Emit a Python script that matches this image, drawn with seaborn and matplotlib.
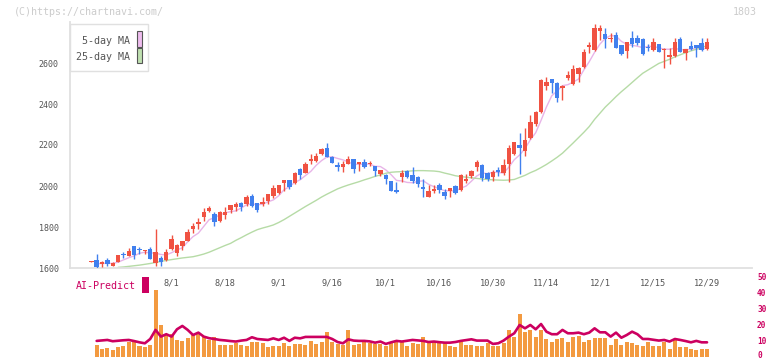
import numpy as np
import pandas as pd
import matplotlib
matplotlib.use("Agg")
import matplotlib.pyplot as plt
import matplotlib.transforms as mtransforms
from matplotlib.patches import Rectangle
import seaborn as sns

# ---------------- data ----------------
opens = [1631,1639,1621,1639,1611,1629,1668,1660,1707,1690, 1681,1693,1623,1650,1637,1691,1672,1705,1732,1790,
         1815,1849,1878,1865,1831,1857,1883,1899,1916,1914, 1951,1916,1912,1929,1953,1967,2013,2029,2013,2085,
         2065,2123,2122,2156,2184,2140,2104,2094,2107,2131, 2107,2117,2106,2097,2059,2054,2024,1980,2045,2073,
         2054,2045,1997,1948,1978,2005,1971,1977,2000,1980, 2026,2049,2094,2102,2065,2045,2078,2065,2106,2155,
         2200,2172,2233,2302,2360,2489,2522,2502,2480,2528, 2498,2548,2579,2677,2663,2758,2741,2717,2736,2688,
         2660,2721,2721,2717,2678,2663,2693,2662,2631,2636, 2717,2647,2683,2688,2697,2668]
highs = [1633,1668,1632,1649,1629,1662,1678,1699,1707,1701, 1690,1702,1790,1658,1693,1761,1717,1733,1790,1818,
         1845,1894,1902,1872,1878,1899,1907,1923,1921,1955, 1961,1918,1946,1962,2005,2007,2031,2031,2067,2088,
         2116,2156,2160,2185,2208,2145,2116,2123,2146,2133, 2118,2132,2123,2099,2080,2057,2026,2021,2078,2076,
         2094,2047,2033,2005,2003,2016,1984,1992,2003,2059, 2059,2078,2127,2107,2068,2078,2091,2133,2200,2217,
         2260,2281,2346,2367,2522,2530,2524,2505,2493,2561, 2590,2580,2667,2704,2789,2786,2770,2745,2751,2690,
         2703,2756,2736,2720,2691,2721,2695,2675,2672,2721, 2727,2670,2705,2690,2721,2721]
lows = [1631,1598,1603,1611,1611,1629,1647,1657,1645,1668, 1667,1645,1611,1611,1634,1688,1660,1690,1730,1772,
        1789,1831,1873,1806,1826,1839,1868,1878,1878,1902, 1896,1875,1902,1912,1940,1960,1976,1984,2010,2033,
        2062,2107,2117,2153,2143,2112,2075,2070,2105,2065, 2075,2090,2098,2050,2050,2010,1975,1964,2021,2037,
        2016,1997,1948,1946,1964,1968,1938,1948,1960,1978, 2013,2039,2075,2026,2026,2026,2049,2054,2021,2151,
        2059,2146,2228,2295,2355,2468,2455,2411,2421,2517, 2495,2509,2575,2647,2660,2712,2675,2701,2672,2640,
        2623,2678,2690,2640,2658,2660,2653,2574,2594,2630, 2653,2615,2662,2630,2660,2663]
closes = [1633,1606,1630,1620,1624,1662,1662,1683,1665,1687, 1688,1645,1678,1631,1678,1741,1712,1730,1777,1806,
          1826,1875,1894,1826,1873,1875,1907,1912,1899,1947, 1902,1883,1923,1960,1992,2005,2029,1997,2065,2055,
          2109,2131,2144,2180,2143,2114,2091,2109,2131,2083, 2116,2094,2112,2075,2078,2034,1977,1972,2062,2042,
          2026,2010,1987,1976,1984,1982,1953,1990,1967,2054, 2034,2073,2117,2040,2036,2070,2068,2102,2187,2215,
          2184,2226,2314,2360,2517,2509,2501,2431,2489,2541, 2571,2577,2655,2688,2770,2772,2715,2724,2675,2642,
          2701,2691,2699,2642,2672,2701,2655,2668,2639,2701, 2655,2668,2667,2672,2663,2701]

ma25 = [None, None, None, None, None,
        1603,1605,1608,1611,1614,1618,1622,1627,1632,1637,
        1641,1645,1649,1652,1655,1661,1668,1677,1688,1699,
        1710,1720,1735,1748,1762,1775,1787,1795,1802,1810,
        1822,1836,1852,1868,1884,1900,1915,1930,1946,1960,
        1973,1986,1996,2005,2013,2021,2030,2038,2047,2054,
        2062,2067,2069,2070,2072,2074,2075,2075,2074,2073,
        2070,2063,2057,2050,2046,2043,2040,2037,2034,2032,
        2030,2029,2028,2029,2032,2042,2052,2065,2076,2090,
        2105,2122,2140,2160,2185,2210,2236,2262,2290,2325,
        2355,2385,2410,2436,2460,2482,2505,2528,2550,2566,
        2582,2598,2608,2618,2630,2640,2650,2659,2667,2676,
        2684]

# bottom panel: one value per session from the 2nd session on
volume = [7.9,5.2,6.0,4.7,6.4,6.8,9.9,9.3,7.2,6.2, 7.9,42,20.4,14.6,14.6,11.0,10.4,12.1,13.7,14.6,
          12.7,11.0,12.7,7.9,7.9,7.9,8.9,7.9,6.8,9.6, 9.3,8.9,6.4,7.2,7.2,8.9,7.2,8.5,8.5,7.9,
          10.4,8.3,9.7,16.0,9.6,8.3,7.9,17.3,7.9,8.5, 9.3,8.9,8.3,8.3,6.8,8.9,9.3,9.3,7.2,8.9,
          8.3,12.9,8.9,9.3,8.9,8.9,6.8,6.2,9.3,7.9, 7.9,7.2,7.2,8.9,7.2,6.8,8.9,16.9,12.5,27.4,
          16.2,16.9,12.5,16.9,11.6,9.9,11.6,12.3,9.9,12.5, 13.5,9.9,10.6,12.3,12.3,12.3,7.9,11.6,7.9,9.9,
          8.9,7.9,7.2,9.9,7.2,6.8,9.3,5.5,11.0,6.2, 6.2,5.5,4.5,5.3,5.3]
ai_predict = [10.3,10.6,10.9,10.1,10.4,10.7,10.9,10.2,9.4,8.8, 11.5,17.2,13.0,14.5,13.0,17.6,19.7,17.2,14.0,15.5,
              13.0,12.0,11.5,10.9,10.6,10.2,9.9,10.5,10.9,12.6, 11.5,11.2,10.9,11.9,10.9,12.3,10.3,12.3,11.9,12.8,
              12.8,12.8,12.8,12.8,11.5,9.6,8.8,11.3,10.5,10.3, 10.3,10.0,9.2,9.9,8.4,9.4,10.3,9.9,10.4,10.9,
              10.6,10.3,9.6,9.9,9.5,9.2,9.2,9.6,10.3,10.8, 11.3,10.5,10.5,10.5,8.4,8.8,10.5,13.0,15.1,20.3,
              18.2,20.3,17.6,20.9,16.1,14.5,14.5,17.2,15.1,15.1, 15.5,14.5,15.5,18.2,15.7,15.7,13.0,15.5,12.3,14.0,
              16.1,14.5,11.5,11.5,11.0,10.5,10.9,9.9,11.5,10.9, 10.2,9.4,10.3,9.4,9.4]

date_labels = ['8/1', '8/18', '9/1', '9/16', '10/1', '10/16', '10/30', '11/14', '12/1', '12/15', '12/29']
date_label_idx = [15, 25, 35, 45, 55, 65, 75, 85, 95, 105, 115]
price_ticks = [1600, 1800, 2000, 2200, 2400, 2600]
ai_ticks = [0, 10, 20, 30, 40, 50]

# ---------------- styling ----------------
sns.set_style("white")
plt.rcParams['font.family'] = ['DejaVu Sans Mono']

W, H = 772, 361
UP = '#f05242'
DOWN = '#4180ee'
GRID = '#e0e0e0'
CRIMSON = '#cc0060'
TXT = '#555555'

n = len(closes)
idx = np.arange(n)
df = pd.DataFrame({'i': idx, 'open': opens, 'high': highs, 'low': lows, 'close': closes,
                   'ma25': pd.Series(ma25, dtype='float')})
df['ma5'] = df['close'].rolling(5, min_periods=1).mean()

sub = pd.DataFrame({'i': np.arange(1, n), 'volume': volume, 'ai': ai_predict})

fig = plt.figure(figsize=(W / 100, H / 100), dpi=100)
fig.patch.set_facecolor('white')

x_lo, x_hi = -3.98, 123.4
ax = fig.add_axes([70 / W, (H - 268) / H, 682 / W, (268 - 22) / H])
ax.set_xlim(x_lo, x_hi)
ax.set_ylim(1600, 1600 + 246 * 200 / 41)

# moving averages
sns.lineplot(data=df.iloc[1:], x='i', y='ma5', ax=ax, color='#e8b4e8', lw=1.0, zorder=2)
sns.lineplot(data=df, x='i', y='ma25', ax=ax, color='#b6dba6', lw=1.0, zorder=2)

# candles
up = df['close'] >= df['open']
colors = np.where(up, UP, DOWN)
ax.vlines(df['i'], df['low'], df['high'], colors=colors, lw=1.0, zorder=3)
body_lo = np.minimum(df['open'], df['close'])
body_h = np.maximum(np.abs(df['close'] - df['open']), 5)
ax.bar(df['i'], body_h, bottom=body_lo, width=0.82, color=colors, linewidth=0, zorder=4)

for s in ['top', 'right']:
    ax.spines[s].set_visible(False)
for s in ['left', 'bottom']:
    ax.spines[s].set_color(GRID)
    ax.spines[s].set_linewidth(1.3)
ax.set_yticks(price_ticks)
ax.set_yticklabels([str(p) for p in price_ticks])
ax.set_xticks(np.linspace(x_lo, x_hi, 12))
ax.set_xticklabels([])
ax.tick_params(axis='both', direction='inout', length=8, width=1.2, color=GRID)
ax.tick_params(axis='y', labelsize=6, labelcolor=TXT, pad=4)
ax.set_xlabel('')
ax.set_ylabel('')

trans = mtransforms.blended_transform_factory(ax.transData, fig.transFigure)
for lab, pos in zip(date_labels, date_label_idx):
    ax.text(pos, (H - 282.5) / H, lab, transform=trans, ha='center', va='center',
            fontsize=6.2, color=TXT, clip_on=False)

# bottom panel
ax2 = fig.add_axes([70 / W, (H - 357.3) / H, 682 / W, (357.3 - 277.7) / H])
sns.barplot(data=sub, x='i', y='volume', native_scale=True, ax=ax2, color='#f39a40',
            saturation=1, width=0.75, errorbar=None, linewidth=0, zorder=2)
sns.lineplot(data=sub, x='i', y='ai', ax=ax2, color=CRIMSON, lw=1.9, zorder=3)
ax2.set_xlim(x_lo, x_hi)
ax2.set_ylim(0, 50)
ax2.patch.set_alpha(0)
for s in ax2.spines.values():
    s.set_visible(False)
ax2.set_xticks([])
ax2.set_yticks([])
ax2.set_xlabel('')
ax2.set_ylabel('')

# right-hand scale labels of the bottom panel
trans2 = mtransforms.blended_transform_factory(fig.transFigure, ax2.transData)
for t in ai_ticks:
    yv = t if t > 0 else 1.0
    ax2.text(757 / W, yv, str(t), transform=trans2, ha='left', va='center',
             fontsize=5.6, fontweight='bold', color=CRIMSON, clip_on=False)

# AI-Predict label
fig.text(76 / W, 1 - 286 / H, 'AI-Predict', ha='left', va='center', fontsize=7.2, color=CRIMSON)
fig.add_artist(Rectangle((142.3 / W, 1 - 292.7 / H), 6.4 / W, 16 / H, transform=fig.transFigure,
                         facecolor=CRIMSON, edgecolor='none'))

# legend
fig.add_artist(Rectangle((70 / W, 1 - 71 / H), 78 / W, 47 / H, transform=fig.transFigure,
                         facecolor='white', edgecolor=GRID, lw=1.0, zorder=5))
fig.text(129.5 / W, 1 - 40.7 / H, '5-day MA', ha='right', va='center', fontsize=7.2, color=TXT, zorder=6)
fig.text(129.5 / W, 1 - 56.7 / H, '25-day MA', ha='right', va='center', fontsize=7.2, color=TXT, zorder=6)
fig.add_artist(Rectangle((136.5 / W, 1 - 46.5 / H), 5.8 / W, 15 / H, transform=fig.transFigure,
                         facecolor='#eebcee', edgecolor='#555555', lw=0.8, zorder=6))
fig.add_artist(Rectangle((136.5 / W, 1 - 63.3 / H), 5.8 / W, 15 / H, transform=fig.transFigure,
                         facecolor='#bfe0b0', edgecolor='#555555', lw=0.8, zorder=6))

# watermark and code
fig.text(14 / W, 1 - 12.3 / H, '(C)https://chartnavi.com/', ha='left', va='center',
         fontsize=7.2, color='#cccccc')
fig.text(757 / W, 1 - 12.3 / H, '1803', ha='right', va='center', fontsize=7.2, color='#cccccc')

fig.savefig('out.png', dpi=100, facecolor='white')
